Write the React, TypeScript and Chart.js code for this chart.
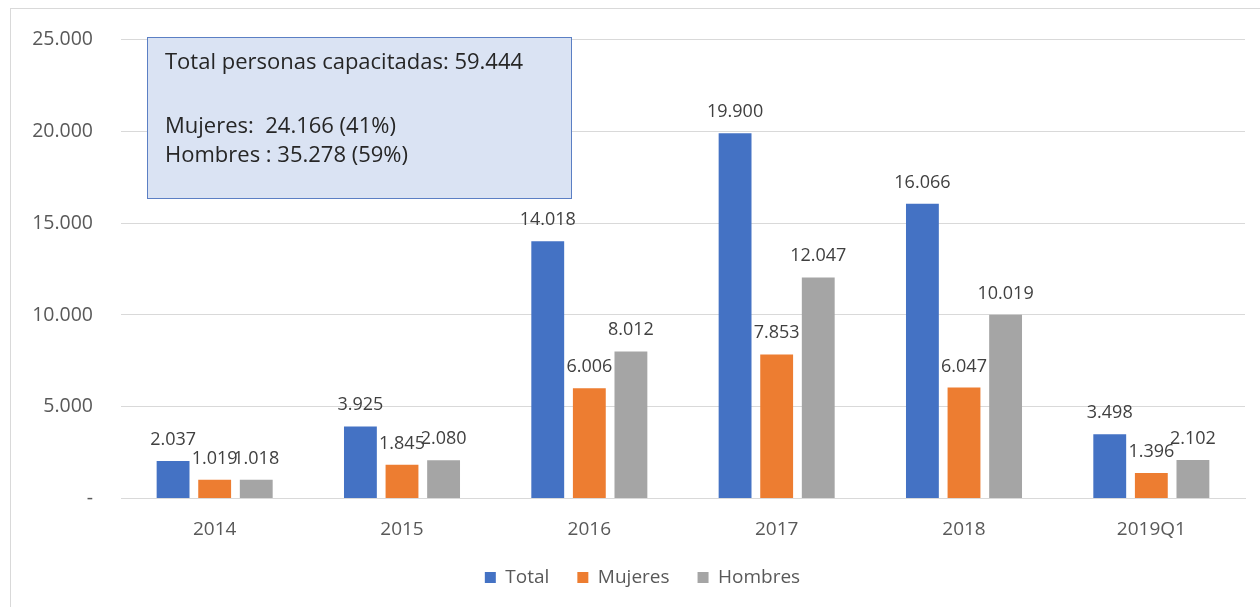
import React, { useEffect, useRef } from "react";
import { Chart, registerables } from "chart.js";

Chart.register(...registerables);

const categories = ["2014", "2015", "2016", "2017", "2018", "2019Q1"];
const seriesNames = ["Total", "Mujeres", "Hombres"];
const totalValues = [2037, 3925, 14018, 19900, 16066, 3498];
const mujeresValues = [1019, 1845, 6006, 7853, 6047, 1396];
const hombresValues = [1018, 2080, 8012, 12047, 10019, 2102];
const seriesColors = ["#4472C4", "#ED7D31", "#A5A5A5"];
const yMin = 0;
const yMax = 25000;
const yStep = 5000;
const noteLines = [
  "Total personas capacitadas: 59.444",
  "",
  "Mujeres:  24.166 (41%)",
  "Hombres : 35.278 (59%)",
];

const FONT = "'Open Sans', 'DejaVu Sans', sans-serif";

const fmt = (n: number) =>
  n === 0 ? "-" : String(n).replace(/\B(?=(\d{3})+(?!\d))/g, ".");

const dataLabelPlugin = {
  id: "dataLabels",
  afterDatasetsDraw(chart: any) {
    const ctx = chart.ctx;
    ctx.save();
    ctx.font = `18px ${FONT}`;
    ctx.fillStyle = "#404040";
    ctx.textAlign = "center";
    ctx.textBaseline = "alphabetic";
    chart.data.datasets.forEach((ds: any, di: number) => {
      const meta = chart.getDatasetMeta(di);
      meta.data.forEach((el: any, i: number) => {
        ctx.fillText(fmt(ds.data[i]), el.x, el.y - 16);
      });
    });
    ctx.restore();
  },
};

const noteBoxPlugin = {
  id: "noteBox",
  beforeDatasetsDraw(chart: any) {
    const ctx = chart.ctx;
    const x = 147;
    const y = 37;
    const w = 425;
    const h = 162;
    ctx.save();
    ctx.fillStyle = "#DAE3F3";
    ctx.fillRect(x, y, w, h);
    ctx.strokeStyle = "#5B7FC4";
    ctx.lineWidth = 1;
    ctx.strokeRect(x + 0.5, y + 0.5, w - 1, h - 1);
    ctx.fillStyle = "#262626";
    ctx.font = `22px ${FONT}`;
    ctx.textAlign = "left";
    ctx.textBaseline = "alphabetic";
    const baselines = [69, 100, 133, 162];
    noteLines.forEach((line, i) => {
      if (line) ctx.fillText(line, x + 18, baselines[i]);
    });
    ctx.restore();
  },
};

const legendShiftPlugin = {
  id: "legendShift",
  afterLayout(chart: any) {
    const lg = chart.legend;
    if (lg) {
      lg.left += 20;
      lg.right += 20;
    }
  },
};

export default function App() {
  const canvasRef = useRef<HTMLCanvasElement | null>(null);

  useEffect(() => {
    if (!canvasRef.current) return;
    const values = [totalValues, mujeresValues, hombresValues];
    const chart = new Chart(canvasRef.current, {
      type: "bar",
      data: {
        labels: categories,
        datasets: seriesNames.map((name, i) => ({
          label: name,
          data: values[i],
          backgroundColor: seriesColors[i],
          borderWidth: 0,
          categoryPercentage: 0.666,
          barPercentage: 0.79,
        })),
      },
      options: {
        responsive: false,
        animation: false,
        layout: { padding: { left: 0, right: 15, top: 38, bottom: 10 } },
        plugins: {
          legend: {
            position: "bottom",
            labels: {
              boxWidth: 11,
              boxHeight: 11,
              padding: 28,
              color: "#595959",
              font: { family: FONT, size: 19 },
            },
          },
          tooltip: { enabled: false },
          title: { display: false },
        },
        scales: {
          x: {
            grid: { display: false, drawTicks: false },
            border: { display: true, color: "#D9D9D9", width: 1 },
            ticks: {
              color: "#595959",
              padding: 20,
              font: { family: FONT, size: 19 },
              maxRotation: 0,
            },
            afterFit: (scale: any) => {
              scale.height = 41.5;
            },
          },
          y: {
            min: yMin,
            max: yMax,
            grid: { color: "#D9D9D9", drawTicks: false, lineWidth: 1 },
            border: { display: false },
            ticks: {
              stepSize: yStep,
              color: "#595959",
              padding: 28,
              font: { family: FONT, size: 19.5 },
              callback: (v: any) => fmt(Number(v)),
            },
            afterFit: (scale: any) => {
              scale.width = 121;
            },
          },
        },
      },
      plugins: [legendShiftPlugin, noteBoxPlugin, dataLabelPlugin],
    });
    return () => chart.destroy();
  }, []);

  return (
    <div
      style={{
        position: "fixed",
        left: 0,
        top: 0,
        width: 1260,
        height: 607,
        background: "#fff",
        overflow: "hidden",
      }}
    >
      <div
        style={{
          position: "absolute",
          left: 10,
          top: 8,
          width: 1270,
          height: 620,
          border: "1px solid #D9D9D9",
        }}
      />
      <canvas
        ref={canvasRef}
        width={1260}
        height={607}
        style={{ position: "absolute", left: 0, top: 0, width: 1260, height: 607 }}
      />
    </div>
  );
}
